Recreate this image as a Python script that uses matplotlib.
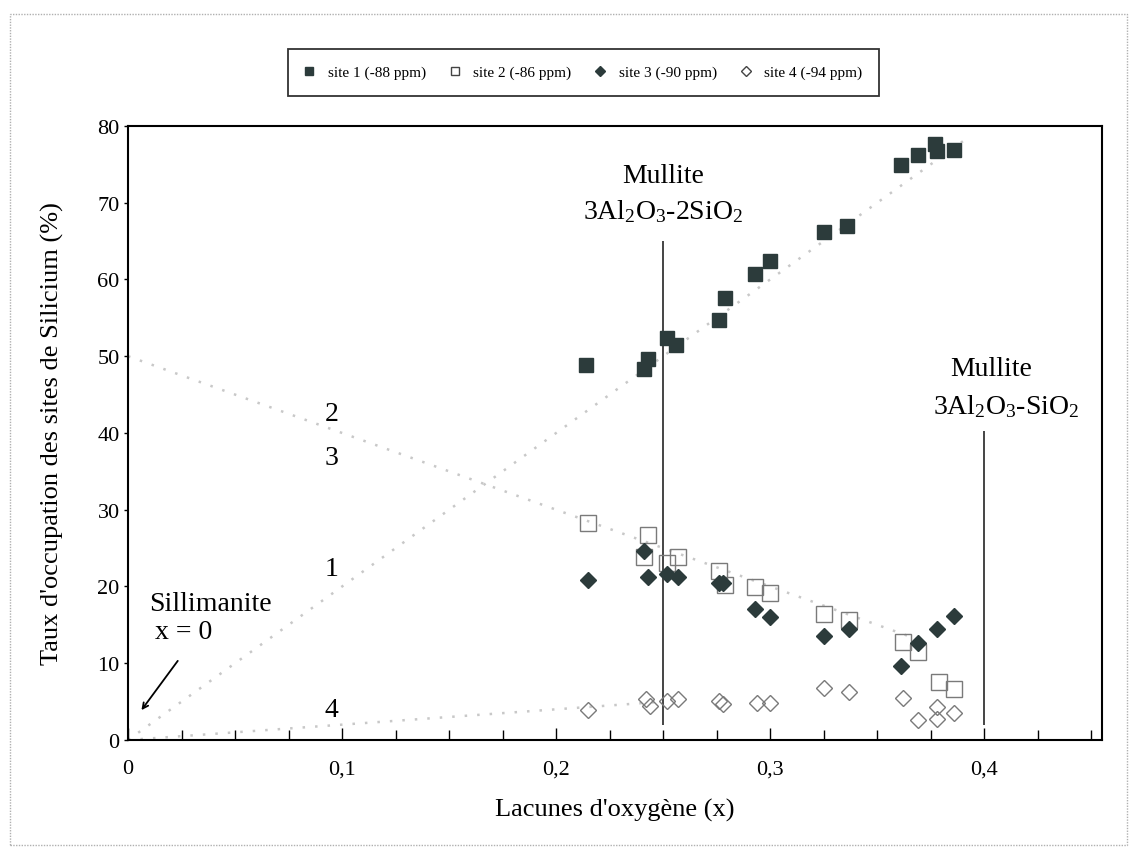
import matplotlib
matplotlib.use("Agg")
import matplotlib.pyplot as plt
from matplotlib.lines import Line2D
from matplotlib.patches import Rectangle
from matplotlib.ticker import MultipleLocator, FuncFormatter

plt.rcParams["font.family"] = ["Liberation Serif", "DejaVu Serif"]
plt.rcParams["mathtext.fontset"] = "custom"
plt.rcParams["mathtext.rm"] = "Liberation Serif"
plt.rcParams["mathtext.default"] = "regular"

# ---------------- DATA ----------------
# site 1 (-88 ppm), filled squares
x1 = [0.214, 0.241, 0.243, 0.252, 0.256, 0.276, 0.279, 0.293, 0.300,
      0.325, 0.336, 0.361, 0.369, 0.377, 0.378, 0.386]
y1 = [48.8, 48.3, 49.7, 52.4, 51.4, 54.7, 57.6, 60.7, 62.4,
      66.2, 66.9, 74.9, 76.2, 77.7, 76.7, 76.8]

# site 2 (-86 ppm), open squares
x2 = [0.215, 0.241, 0.243, 0.252, 0.257, 0.276, 0.279, 0.293, 0.300,
      0.325, 0.337, 0.362, 0.369, 0.379, 0.386]
y2 = [28.3, 23.9, 26.7, 23.0, 23.9, 22.0, 20.2, 19.9, 19.2,
      16.4, 15.6, 12.8, 11.5, 7.6, 6.6]

# site 3 (-90 ppm), filled diamonds
x3 = [0.215, 0.241, 0.243, 0.252, 0.257, 0.276, 0.278, 0.293, 0.300,
      0.325, 0.337, 0.361, 0.369, 0.378, 0.386]
y3 = [20.9, 24.6, 21.3, 21.6, 21.3, 20.4, 20.4, 17.1, 16.0,
      13.5, 14.4, 9.6, 12.6, 14.4, 16.1]

# site 4 (-94 ppm), open diamonds
x4 = [0.215, 0.242, 0.244, 0.252, 0.257, 0.276, 0.278, 0.294, 0.300,
      0.325, 0.337, 0.362, 0.369, 0.378, 0.378, 0.386]
y4 = [3.9, 5.4, 4.4, 5.1, 5.4, 5.1, 4.7, 4.8, 4.8,
      6.8, 6.2, 5.5, 2.6, 4.3, 2.8, 3.5]

labels = ["site 1 (-88 ppm)", "site 2 (-86 ppm)", "site 3 (-90 ppm)", "site 4 (-94 ppm)"]

# model lines (end points)
model_1_x = [0.0, 0.39]
model_1_y = [0.0, 78.0]
model_23_x = [0.0, 0.37]
model_23_y = [50.0, 13.0]
model_4_x = [0.0, 0.25]
model_4_y = [0.0, 5.0]

# mullite compositions
mullite_x = [0.25, 0.4]
mullite_top = [65.0, 40.3]
# --------------------------------------

DARK = "#2c3b3b"
GREY = "#7a7a7a"
DOT = "#c8c8c8"

fig = plt.figure(figsize=(11.34, 8.53), dpi=100)
ax = fig.add_axes([0.1129, 0.1313, 0.8589, 0.7199])

# model dotted lines
for mx, my in [(model_1_x, model_1_y), (model_23_x, model_23_y), (model_4_x, model_4_y)]:
    ax.plot(mx, my, color=DOT, lw=1.8, ls=(0, (1, 4)), zorder=1)

# mullite vertical lines
ax.vlines(mullite_x, 2.0, mullite_top, color="#444444", lw=1.4, zorder=2)

ax.plot(x1, y1, ls="none", marker="s", ms=10.5, mfc=DARK, mec=DARK, zorder=4)
ax.plot(x2, y2, ls="none", marker="s", ms=11, mfc="none", mec=GREY, mew=1.0, zorder=3)
ax.plot(x3, y3, ls="none", marker="D", ms=8, mfc=DARK, mec=DARK, zorder=4)
ax.plot(x4, y4, ls="none", marker="D", ms=8, mfc="none", mec=GREY, mew=1.0, zorder=3)

ax.set_xlim(0, 0.455)
ax.set_ylim(0, 80)

ax.xaxis.set_major_locator(MultipleLocator(0.1))
ax.xaxis.set_minor_locator(MultipleLocator(0.025))
ax.yaxis.set_major_locator(MultipleLocator(10))
ax.xaxis.set_major_formatter(FuncFormatter(lambda v, p: "0" if abs(v) < 1e-9 else f"{v:.1f}".replace(".", ",")))
ax.tick_params(axis="x", which="major", direction="in", length=9, width=1, labelsize=16, pad=14)
ax.tick_params(axis="x", which="minor", direction="in", length=7, width=1)
ax.tick_params(axis="y", which="major", direction="out", length=3, width=1, labelsize=16, pad=3)
for s in ax.spines.values():
    s.set_linewidth(1.5)

ax.set_xlabel("Lacunes d'oxygène (x)", fontsize=19, labelpad=14)
ax.set_ylabel("Taux d'occupation des sites de Silicium (%)", fontsize=19, labelpad=24)

# annotations
ax.text(0.25, 73.5, "Mullite", fontsize=20, ha="center", va="center")
ax.text(0.25, 68.9, r"3Al$_2$O$_3$-2SiO$_2$", fontsize=20, ha="center", va="center")
ax.text(0.403, 48.4, "Mullite", fontsize=20, ha="center", va="center")
ax.text(0.41, 43.6, r"3Al$_2$O$_3$-SiO$_2$", fontsize=20, ha="center", va="center")

for txt, yy in [("2", 42.5), ("3", 36.8), ("1", 22.4), ("4", 4.0)]:
    ax.text(0.095, yy, txt, fontsize=20, ha="center", va="center")

ax.text(0.010, 17.8, "Sillimanite", fontsize=20, ha="left", va="center")
ax.text(0.0125, 14.2, "x = 0", fontsize=20, ha="left", va="center")
ax.annotate("", xy=(0.0055, 3.6), xytext=(0.024, 10.6),
            arrowprops=dict(arrowstyle="->", color="black", lw=1.3))

# legend
handles = [
    Line2D([], [], ls="none", marker="s", ms=6, mfc=DARK, mec=DARK),
    Line2D([], [], ls="none", marker="s", ms=6, mfc="none", mec="#444444"),
    Line2D([], [], ls="none", marker="D", ms=5, mfc=DARK, mec=DARK),
    Line2D([], [], ls="none", marker="D", ms=5, mfc="none", mec="#444444"),
]
leg = fig.legend(handles, labels, loc="center", bbox_to_anchor=(0.5146, 0.914),
                 ncol=4, fontsize=11, frameon=True, fancybox=False,
                 handlelength=0.6, handletextpad=0.9, columnspacing=1.6,
                 borderpad=1.1, borderaxespad=0)
leg.get_frame().set_edgecolor("black")
leg.get_frame().set_linewidth(1.3)

# outer frame
fig.patches.append(Rectangle((0.009, 0.008), 0.985, 0.974, transform=fig.transFigure,
                             fill=False, ec="#b0b0b0", lw=1, ls=(0, (1, 1))))

fig.savefig("out.png", dpi=100)
